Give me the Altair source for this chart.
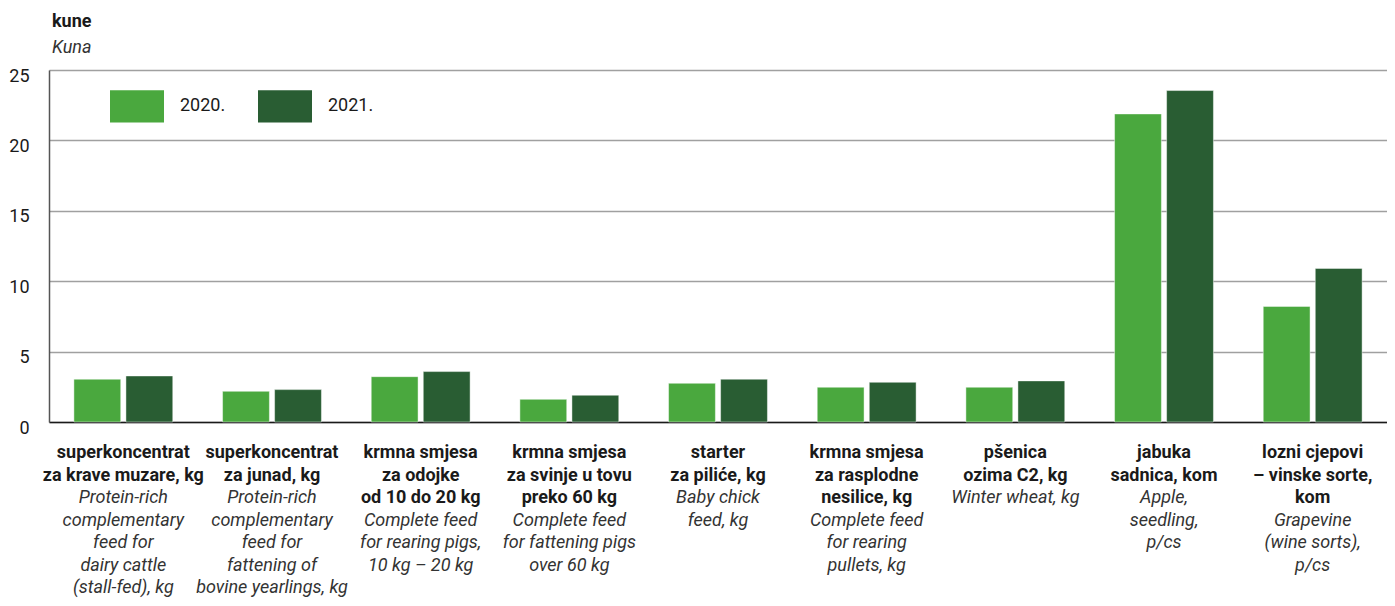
import altair as alt
import pandas as pd

FONT = "Roboto, Liberation Sans, sans-serif"

hr_lines = [
    ["superkoncentrat", "za krave muzare, kg"],
    ["superkoncentrat", "za junad, kg"],
    ["krmna smjesa", "za odojke", "od 10 do 20 kg"],
    ["krmna smjesa", "za svinje u tovu", "preko 60 kg"],
    ["starter", "za piliće, kg"],
    ["krmna smjesa", "za rasplodne", "nesilice, kg"],
    ["pšenica", "ozima C2, kg"],
    ["jabuka", "sadnica, kom"],
    ["lozni cjepovi", "– vinske sorte,", "kom"],
]
en_lines = [
    ["Protein-rich", "complementary", "feed for", "dairy cattle", "(stall-fed), kg"],
    ["Protein-rich", "complementary", "feed for", "fattening of", "bovine yearlings, kg"],
    ["Complete feed", "for rearing pigs,", "10 kg – 20 kg"],
    ["Complete feed", "for fattening pigs", "over 60 kg"],
    ["Baby chick", "feed, kg"],
    ["Complete feed", "for rearing", "pullets, kg"],
    ["Winter wheat, kg"],
    ["Apple,", "seedling,", "p/cs"],
    ["Grapevine", "(wine sorts),", "p/cs"],
]
years = ["2020.", "2021."]
v2020 = [3.04, 2.18, 3.22, 1.61, 2.75, 2.47, 2.47, 21.88, 8.21]
v2021 = [3.27, 2.30, 3.58, 1.90, 3.04, 2.82, 2.92, 23.54, 10.91]
y_ticks = [0, 5, 10, 15, 20, 25]

cats = [" ".join(h) for h in hr_lines]

bars_df = pd.DataFrame(
    [{"cat": c, "year": years[0], "value": a} for c, a in zip(cats, v2020)]
    + [{"cat": c, "year": years[1], "value": b} for c, b in zip(cats, v2021)]
)

rows = []
for c, hr, en in zip(cats, hr_lines, en_lines):
    for i, t in enumerate(hr):
        rows.append({"cat": c, "line": i, "text": t, "bold": True})
    for j, t in enumerate(en):
        rows.append({"cat": c, "line": len(hr) + j, "text": t, "bold": False})
text_df = pd.DataFrame(rows)

x_enc = alt.X(
    "cat:N",
    sort=cats,
    scale=alt.Scale(paddingInner=0.335, paddingOuter=0.1675),
    axis=alt.Axis(labels=False, ticks=False, title=None, domain=True,
                  domainColor="#1a1a1a", domainWidth=1.5, grid=False),
)

bars = alt.Chart(bars_df).mark_bar(stroke="#ffffff", strokeWidth=1, strokeOpacity=0.45).encode(
    x=x_enc,
    xOffset=alt.XOffset("year:N", sort=years, scale=alt.Scale(paddingInner=0.1)),
    y=alt.Y(
        "value:Q",
        scale=alt.Scale(domain=[0, 25], nice=False),
        axis=alt.Axis(values=y_ticks, title=None, ticks=False, grid=True,
                      gridColor="#a0a0a0", gridWidth=1.5, domain=True,
                      domainColor="#555555", domainWidth=1.5,
                      labelFontSize=18, labelFont=FONT, labelColor="#1a1a1a",
                      labelPadding=20, labelOffset=6, labelBaseline="middle"),
    ),
    color=alt.Color(
        "year:N",
        sort=years,
        scale=alt.Scale(domain=years, range=["#4aa83e", "#295d33"]),
        legend=alt.Legend(
            title=None, orient="none", legendX=61, legendY=9,
            direction="horizontal", symbolType="M-1,-0.6H1V0.6H-1Z",
            symbolSize=2916, symbolStrokeWidth=0, symbolOpacity=1,
            labelFontSize=18, labelFont=FONT, labelColor="#1a1a1a",
            labelOffset=16, columnPadding=32, padding=0,
        ),
    ),
)

y_text = alt.Y("line:Q", scale=alt.Scale(domain=[0, 6], range=[383, 518]), axis=None)

bold_text = alt.Chart(text_df).transform_filter("datum.bold").mark_text(
    font=FONT, fontSize=18, fontWeight="bold", color="#1a1a1a",
    align="center", baseline="middle",
).encode(x=x_enc, y=y_text, text="text:N")

ital_text = alt.Chart(text_df).transform_filter("!datum.bold").mark_text(
    font=FONT, fontSize=18, fontStyle="italic", color="#333333",
    align="center", baseline="middle",
).encode(x=x_enc, y=y_text, text="text:N")

chart = alt.layer(bars, bold_text, ital_text).resolve_scale(y="independent").properties(
    width=1338,
    height=352,
    autosize=alt.AutoSizeParams(type="none"),
    padding={"left": 41, "top": 62, "right": 0, "bottom": 176},
    title=alt.TitleParams(
        text="kune", subtitle="Kuna", anchor="start", frame="group", dx=3, offset=10,
        font=FONT, fontSize=18, fontWeight="bold", color="#1a1a1a",
        subtitleFont=FONT, subtitleFontSize=18, subtitleFontStyle="italic",
        subtitleColor="#333333", subtitlePadding=8,
    ),
).configure_view(stroke=None)

chart.save("out.html", embed_options={"renderer": "svg", "actions": False})
